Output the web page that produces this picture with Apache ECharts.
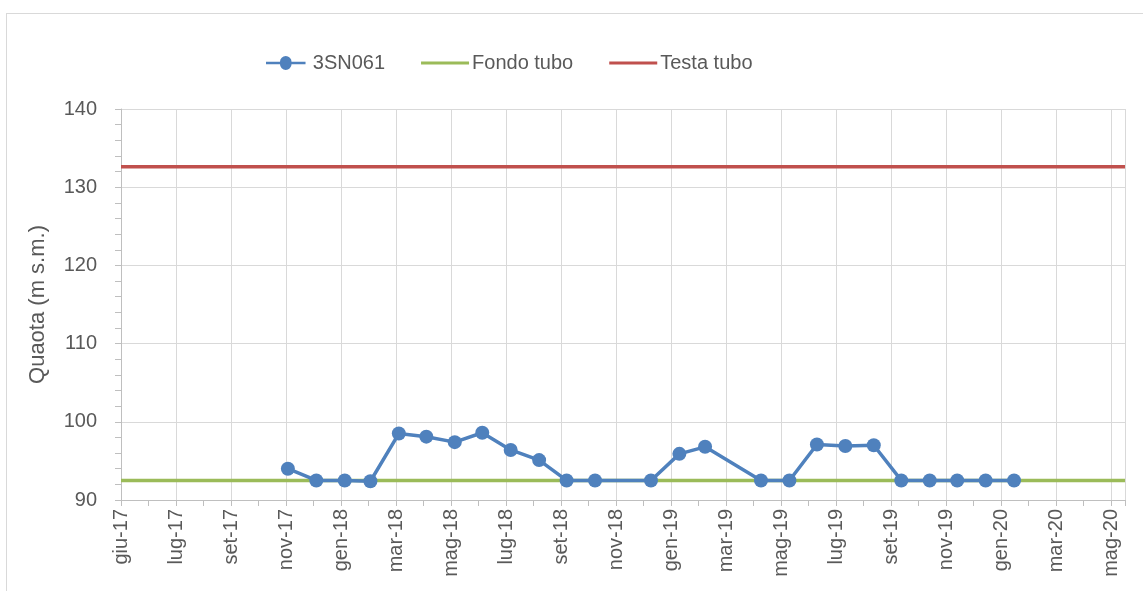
<!DOCTYPE html>
<html lang="it">

<head>
    <meta charset="UTF-8">
    <title>3SN061</title>
    <script src="https://cdn.jsdelivr.net/npm/echarts@6/dist/echarts.min.js"></script>
    <style>
        body {
            margin: 0;
            padding: 0;
            background: #fff;
            overflow: hidden;
        }

        /* cornice del grafico, come in Excel */
        #frame {
            position: absolute;
            left: 6px;
            top: 13px;
            width: 1300px;
            height: 800px;
            border: 1px solid #d9d9d9;
        }

        #main {
            position: absolute;
            left: 0;
            top: 0;
            width: 1143px;
            height: 591px;
        }
    </style>
</head>

<body>
    <div id="frame"></div>
    <div id="main"></div>

    <script>
        // dati
        var axisStart = '2017-06-01';   // primo tick dell'asse x
        var axisDays = 1095;            // estensione dell'asse x in giorni
        var tickDays = 60;
        var monthNames = ['gen', 'feb', 'mar', 'apr', 'mag', 'giu', 'lug', 'ago', 'set', 'ott', 'nov', 'dic'];

        var dates = [
            '2017-11-30', '2017-12-31', '2018-01-31', '2018-02-28', '2018-03-31', '2018-04-30',
            '2018-05-31', '2018-06-30', '2018-07-31', '2018-08-31', '2018-09-30', '2018-10-31',
            '2018-12-31', '2019-01-31', '2019-02-28', '2019-04-30', '2019-05-31', '2019-06-30',
            '2019-07-31', '2019-08-31', '2019-09-30', '2019-10-31', '2019-11-30', '2019-12-31',
            '2020-01-31'
        ];
        var levels = [
            94.0, 92.5, 92.5, 92.4, 98.5, 98.1,
            97.4, 98.6, 96.4, 95.1, 92.5, 92.5,
            92.5, 95.9, 96.8, 92.5, 92.5, 97.1,
            96.9, 97.0, 92.5, 92.5, 92.5, 92.5,
            92.5
        ];
        var fondoTubo = 92.5;
        var testaTubo = 132.6;

        var DAY = 86400000;
        var t0 = Date.parse(axisStart);

        function toDays(s) {
            return Math.round((Date.parse(s) - t0) / DAY);
        }

        function dayLabel(v) {
            if (v % tickDays !== 0) return '';
            var d = new Date(t0 + v * DAY);
            return monthNames[d.getUTCMonth()] + '-' + String(d.getUTCFullYear()).slice(2);
        }

        var seriesData = dates.map(function (s, i) {
            return [toDays(s), levels[i]];
        });

        var textColor = '#595959';
        var font = 'Liberation Sans';
        // icona legenda: solo linea (i due M iniziali fissano il riquadro)
        var lineIcon = 'path://M0,0 M48,14 M0,5.5 L48,5.5 L48,8.5 L0,8.5 Z';
        var dotIcon = 'path://M0,0 M48,14 M0,5.5 L17,5.5 A7,7 0 0 1 31,5.5 L48,5.5 L48,8.5 L31,8.5 A7,7 0 0 1 17,8.5 L0,8.5 Z';

        var myChart = echarts.init(document.getElementById('main'));

        var option = {
            animation: false,
            textStyle: { fontFamily: font },
            legend: {
                left: 261,
                top: 48,
                itemWidth: 48,
                itemHeight: 14,
                itemGap: 36,
                textStyle: { fontSize: 20, color: textColor, fontFamily: font, padding: [0, 0, 0, -2] },
                data: [
                    { name: '3SN061', icon: dotIcon },
                    { name: 'Fondo tubo', icon: lineIcon },
                    { name: 'Testa tubo', icon: lineIcon }
                ]
            },
            grid: {
                left: 121,
                top: 109,
                right: 18,
                bottom: 91
            },
            xAxis: {
                type: 'value',
                min: 0,
                max: axisDays,
                interval: tickDays,
                axisLine: { show: true, lineStyle: { color: '#bfbfbf', width: 1 } },
                axisTick: { show: true, length: 6, lineStyle: { color: '#bfbfbf' } },
                minorTick: { show: true, splitNumber: 2, length: 6, lineStyle: { color: '#bfbfbf' } },
                splitLine: { show: true, lineStyle: { color: '#d9d9d9', width: 1 } },
                axisLabel: {
                    rotate: 90,
                    fontSize: 20,
                    color: textColor,
                    margin: 9,
                    formatter: dayLabel,
                    showMaxLabel: false
                }
            },
            yAxis: {
                type: 'value',
                min: 90,
                max: 140,
                interval: 10,
                name: 'Quaota (m s.m.)',
                nameLocation: 'middle',
                nameGap: 72,
                nameTextStyle: { fontSize: 22, color: textColor, fontFamily: font },
                axisLine: { show: true, lineStyle: { color: '#bfbfbf', width: 1 } },
                axisTick: { show: true, length: 6, lineStyle: { color: '#bfbfbf' } },
                minorTick: { show: true, splitNumber: 5, length: 6, lineStyle: { color: '#bfbfbf' } },
                splitLine: { show: true, lineStyle: { color: '#d9d9d9', width: 1 } },
                axisLabel: { fontSize: 20, color: textColor, margin: 24 }
            },
            series: [
                {
                    name: 'Fondo tubo',
                    type: 'line',
                    data: [[0, fondoTubo], [axisDays, fondoTubo]],
                    showSymbol: false,
                    symbol: 'none',
                    lineStyle: { color: '#9bbb59', width: 3.5 },
                    itemStyle: { color: '#9bbb59' },
                    z: 2
                },
                {
                    name: 'Testa tubo',
                    type: 'line',
                    data: [[0, testaTubo], [axisDays, testaTubo]],
                    showSymbol: false,
                    symbol: 'none',
                    lineStyle: { color: '#c0504d', width: 3.5 },
                    itemStyle: { color: '#c0504d' },
                    z: 2
                },
                {
                    name: '3SN061',
                    type: 'line',
                    data: seriesData,
                    symbol: 'circle',
                    symbolSize: 14,
                    lineStyle: { color: '#4f81bd', width: 3.5 },
                    itemStyle: { color: '#4f81bd' },
                    z: 3
                }
            ]
        };

        option && myChart.setOption(option);
    </script>
</body>

</html>
